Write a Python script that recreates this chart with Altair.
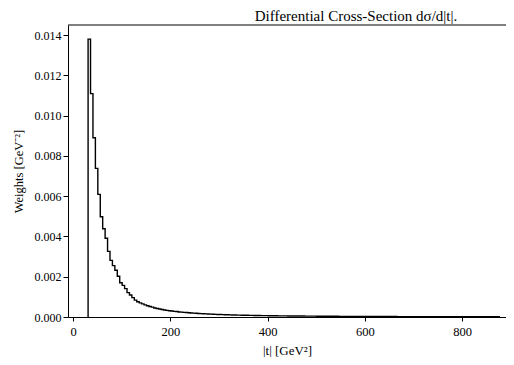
import altair as alt
import pandas as pd

# Histogram of |t| (GeV^2): bins of width 5 starting at 31
bin_start = 31.0
bin_width = 5.0
weights = [
    0.01380, 0.01109, 0.00890, 0.00738, 0.00609, 0.00498, 0.00438, 0.00391, 0.00326, 0.00281,
    0.00255, 0.00232, 0.00202, 0.00170, 0.00157, 0.00141, 0.00121, 0.00109, 0.00096, 0.00084,
    0.00076, 0.00070, 0.00065, 0.00060, 0.00056, 0.00052, 0.00049, 0.00045, 0.00042, 0.00040,
    0.00037, 0.00035, 0.00033, 0.00031, 0.00030, 0.00028, 0.00027, 0.00025, 0.00024, 0.00023,
    0.00022, 0.00021, 0.00020, 0.00019, 0.000185, 0.000176, 0.000169, 0.000162, 0.000155, 0.000149,
    0.000143, 0.000137, 0.000132, 0.000127, 0.000122, 0.000118, 0.000113, 0.000109, 0.000105, 0.000102,
    0.000098, 0.000095, 0.000092, 0.000089, 0.000087, 0.000084, 0.000081, 0.000079, 0.000077, 0.000074,
    0.000072, 0.000070, 0.000068, 0.000066, 0.000065, 0.000063, 0.000061, 0.000060, 0.000058, 0.000057,
    0.000055, 0.000054, 0.000053, 0.000051, 0.000050, 0.000049, 0.000048, 0.000047, 0.000046, 0.000045,
    0.000044, 0.000043, 0.000042, 0.000041, 0.000040, 0.000039, 0.000038, 0.000037, 0.000037, 0.000036,
    0.000035, 0.000034, 0.000034, 0.000033, 0.000032, 0.000032, 0.000031, 0.000031, 0.000030, 0.000029,
    0.000029, 0.000028, 0.000028, 0.000027, 0.000027, 0.000026, 0.000026, 0.000025, 0.000025, 0.000024,
    0.000024, 0.000024, 0.000023, 0.000023, 0.000022, 0.000022, 0.000022, 0.000021, 0.000021, 0.000021,
    0.000020, 0.000020, 0.000020, 0.000019, 0.000019, 0.000019, 0.000018, 0.000018, 0.000018, 0.000018,
    0.000017, 0.000017, 0.000017, 0.000017, 0.000016, 0.000016, 0.000016, 0.000016, 0.000015, 0.000015,
    0.000015, 0.000015, 0.000015, 0.000014, 0.000014, 0.000014, 0.000014, 0.000014, 0.000013, 0.000013,
    0.000013, 0.000013, 0.000013, 0.000012, 0.000012, 0.000012, 0.000012, 0.000012, 0.000012,
]
x_ticks = [0, 200, 400, 600, 800]
y_ticks = [0.000, 0.002, 0.004, 0.006, 0.008, 0.010, 0.012, 0.014]
title_text = "Differential Cross-Section dσ/d|t|."

n = len(weights)
edges = [bin_start + bin_width * i for i in range(n + 1)]

# step outline: rise at first edge, steps, drop at last edge
xs = [edges[0]] + edges[:n] + [edges[n]]
ys = [0.0] + weights + [0.0]
df = pd.DataFrame({"t": xs, "w": ys, "order": list(range(len(xs)))})

FONT = "Liberation Serif"
W, H = 438, 292

step = alt.Chart(df).mark_line(
    interpolate="step-after", color="black", strokeWidth=1.4, clip=True
).encode(
    x=alt.X(
        "t:Q",
        scale=alt.Scale(domain=[-10.3, 890], nice=False, zero=False),
        axis=alt.Axis(
            values=x_ticks, title="|t|  [GeV²]", grid=False, format="d",
            tickSize=4, labelPadding=4, titlePadding=7,
            domainColor="black", tickColor="black", labelColor="black", titleColor="black",
            labelFont=FONT, titleFont=FONT, labelFontSize=12.5, titleFontSize=13,
            titleFontWeight="normal",
        ),
    ),
    y=alt.Y(
        "w:Q",
        scale=alt.Scale(domain=[0, 0.0145], nice=False),
        axis=alt.Axis(
            values=y_ticks, title="Weights [GeV⁻²]", grid=False, format=".3f",
            tickSize=5, labelPadding=2, titlePadding=9,
            domainColor="black", tickColor="black", labelColor="black", titleColor="black",
            labelFont=FONT, titleFont=FONT, labelFontSize=12, titleFontSize=12.5,
            titleFontWeight="normal",
        ),
    ),
    order="order:Q",
)

top_spine = alt.Chart(pd.DataFrame({"a": [0]})).mark_rule(color="black", strokeWidth=1).encode(
    x=alt.value(0), x2=alt.value(W), y=alt.value(0)
)

title_mark = alt.Chart(pd.DataFrame({"label": [title_text]})).mark_text(
    font=FONT, fontSize=15, color="black", align="center", baseline="alphabetic", clip=False
).encode(
    text="label:N", x=alt.value(288), y=alt.value(-4)
)

chart = alt.layer(step, top_spine, title_mark).properties(
    width=W,
    height=H,
    autosize=alt.AutoSizeParams(type="none"),
    padding={"left": 60, "top": 17, "right": 0, "bottom": 40},
).configure_view(strokeWidth=0)

chart.save("out.html", embed_options={"renderer": "svg", "actions": False})
